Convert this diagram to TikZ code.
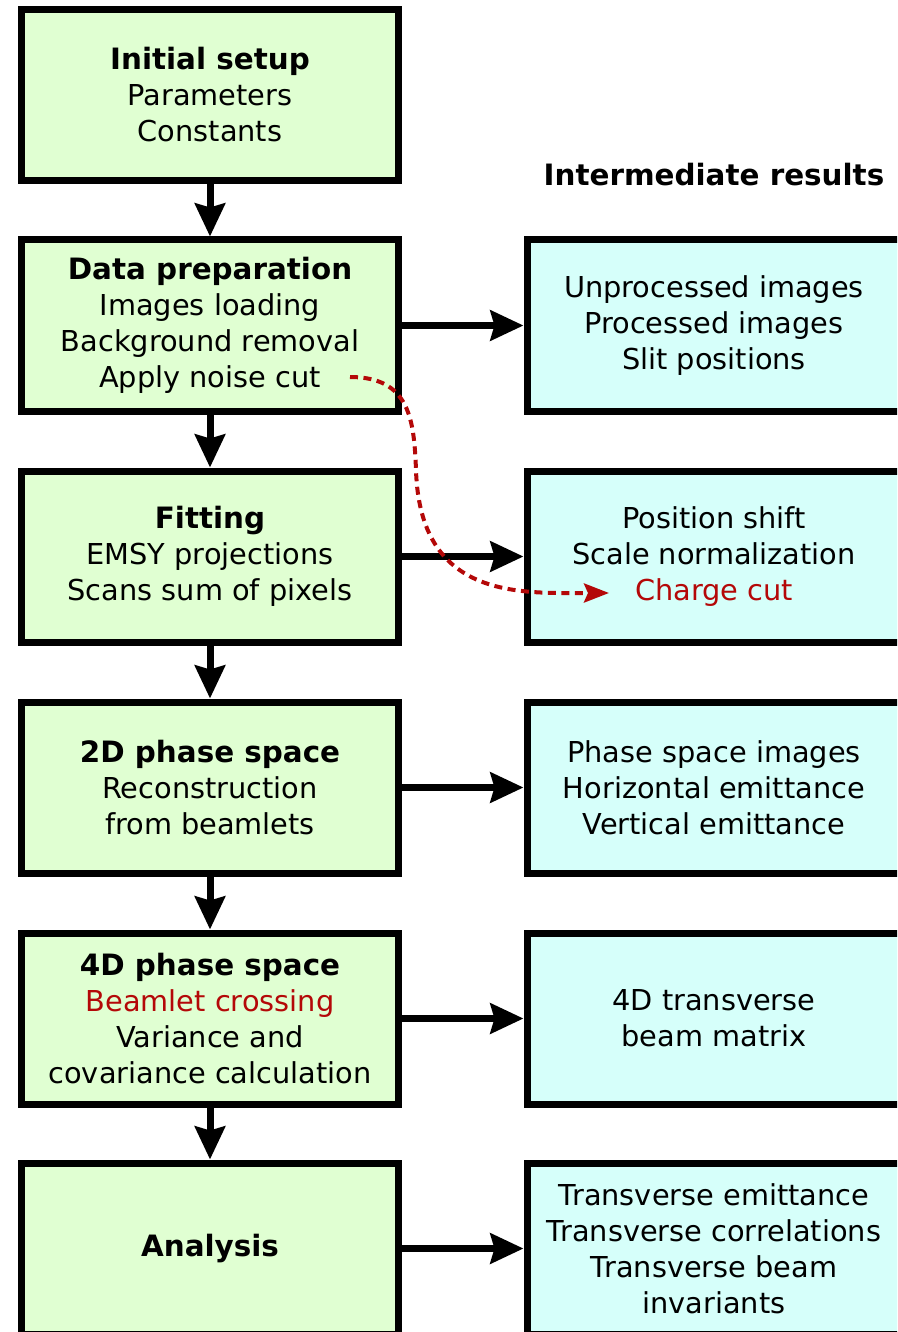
\documentclass[tikz,border=0pt]{standalone}
\usepackage{fontspec}
\setmainfont{DejaVu Sans}
\usetikzlibrary{arrows.meta}
\definecolor{boxgreen}{RGB}{224,255,210}
\definecolor{boxcyan}{RGB}{214,255,250}
\definecolor{dred}{RGB}{180,8,8}
\tikzset{
  basebox/.style={draw=black, line width=7pt, minimum width=377pt, minimum height=171pt,
    align=center, inner sep=0pt, font=\fontsize{28.8pt}{36pt}\selectfont},
  stepbox/.style={basebox, fill=boxgreen},
  resbox/.style={basebox, fill=boxcyan, minimum width=374pt},
  arr/.style={line width=7pt, -{Stealth[length=33pt,width=30pt,inset=4pt]}},
  dasharr/.style={dred, line width=4pt, dash pattern=on 8pt off 5.5pt,
    -{Stealth[length=25pt,width=19pt,inset=4pt]}},
  hb/.style={font=\bfseries\fontsize{29.4pt}{36pt}\selectfont},
}
\newcommand{\hd}[1]{{\fontsize{29.4pt}{36pt}\selectfont\bfseries #1}}
\begin{document}
\begin{tikzpicture}[x=1pt,y=-1pt]
\useasboundingbox (0,0) rectangle (897,1332);
\clip (0,0) rectangle (897,1332);
% left column
\node[stepbox] (b1) at (210,95) {\hd{Initial setup}\\Parameters\\Constants};
\node[stepbox] (b2) at (210,325.5) {\hd{Data preparation}\\Images loading\\Background removal\\Apply noise cut};
\node[stepbox] (b3) at (210,556.5) {\hd{Fitting}\\EMSY projections\\Scans sum of pixels};
\node[stepbox] (b4) at (210,787.5) {\hd{2D phase space}\\Reconstruction\\from beamlets};
\node[stepbox] (b5) at (210,1018.5) {\hd{4D phase space}\\{\color{dred}Beamlet crossing}\\Variance and\\covariance calculation};
\node[stepbox] (b6) at (210,1248.5) {\hd{Analysis}};
% right column
\node[hb] (title) at (714,175) {Intermediate results};
\node[resbox] (r2) at (714,325.5) {Unprocessed images\\Processed images\\Slit positions};
\node[resbox] (r3) at (714,556.5) {Position shift\\Scale normalization\\{\color{dred}Charge cut}};
\node[resbox] (r4) at (714,787.5) {Phase space images\\Horizontal emittance\\Vertical emittance};
\node[resbox] (r5) at (714,1018.5) {4D transverse\\beam matrix};
\node[resbox] (r6) at (714,1248.5) {Transverse emittance\\Transverse correlations\\Transverse beam\\invariants};
% vertical arrows
\draw[arr] (b1.south) -- (b2.north);
\draw[arr] (b2.south) -- (b3.north);
\draw[arr] (b3.south) -- (b4.north);
\draw[arr] (b4.south) -- (b5.north);
\draw[arr] (b5.south) -- (b6.north);
% horizontal arrows
\draw[arr] (b2.east) -- (r2.west);
\draw[arr] (b3.east) -- (r3.west);
\draw[arr] (b4.east) -- (r4.west);
\draw[arr] (b5.east) -- (r5.west);
\draw[arr] (b6.east) -- (r6.west);
% dashed red connector
\coordinate (cs) at (350,377);
\coordinate (ce) at (609,593);
\draw[dasharr] (cs) .. controls (410,377) and (414,420) .. (416,470)
  .. controls (420,600) and (520,593) .. (ce);
\end{tikzpicture}
\end{document}
